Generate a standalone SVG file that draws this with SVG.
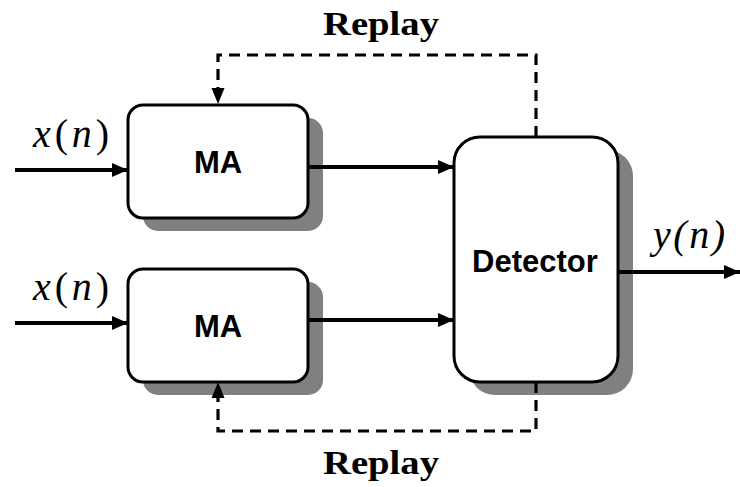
<svg xmlns="http://www.w3.org/2000/svg" width="740" height="487" viewBox="0 0 740 487">
<defs>
<marker id="ah" viewBox="0 0 16 14" refX="16" refY="7" markerWidth="16" markerHeight="14" orient="auto" markerUnits="userSpaceOnUse"><path d="M0,0 L16,7 L0,14 z" fill="#000"/></marker>
</defs>
<style>
.box{fill:#fff;stroke:#000;stroke-width:3px}
.sh{fill:#808080}
.lab{font-family:"Liberation Sans",Arial,sans-serif;font-weight:bold;text-anchor:middle;font-size:31px}
.rep{font-family:"Liberation Serif","Times New Roman",serif;font-weight:bold;font-size:33px;text-anchor:middle}
.math{font-family:"Liberation Serif","Times New Roman",serif;font-size:40px}
.it{font-style:italic}
.sol{fill:none;stroke:#000;stroke-width:4px}
.dash{fill:none;stroke:#000;stroke-width:3.2px;stroke-dasharray:11,7}
</style>
<rect width="740" height="487" fill="#fff"/>
<g id="ma1">
<rect class="sh" x="143" y="118" width="180" height="113" rx="15"/>
<rect class="box" x="128" y="105" width="180" height="113" rx="15"/>
<text class="lab" x="218" y="173">MA</text>
</g>
<g id="ma2">
<rect class="sh" x="143" y="282" width="180" height="113" rx="15"/>
<rect class="box" x="128" y="269" width="180" height="113" rx="15"/>
<text class="lab" x="218" y="337">MA</text>
</g>
<g id="detector">
<rect class="sh" x="469" y="150" width="164" height="245" rx="26"/>
<rect class="box" x="454" y="137" width="164" height="245" rx="26"/>
<text class="lab" x="535" y="272">Detector</text>
</g>
<g id="connectors">
<line class="sol" x1="15" y1="170" x2="128" y2="170" marker-end="url(#ah)"/>
<line class="sol" x1="15" y1="323" x2="128" y2="323" marker-end="url(#ah)"/>
<line class="sol" x1="308" y1="167" x2="454" y2="167" marker-end="url(#ah)"/>
<line class="sol" x1="308" y1="320" x2="454" y2="320" marker-end="url(#ah)"/>
<line class="sol" x1="618" y1="272" x2="740" y2="272" marker-end="url(#ah)"/>
<path class="dash" d="M536,137 V55 H218 V90"/>
<path d="M211.5,88 L224.5,88 L218,104 z" fill="#000"/>
<path class="dash" d="M536,382 V431 H218 V398"/>
<path d="M211.5,398 L224.5,398 L218,382 z" fill="#000"/>
</g>
<g id="labels">
<text class="rep" x="381" y="35" textLength="116" lengthAdjust="spacingAndGlyphs">Replay</text>
<text class="rep" x="381" y="474" textLength="116" lengthAdjust="spacingAndGlyphs">Replay</text>
<text class="math" x="33" y="147" textLength="76"><tspan class="it">x</tspan>(<tspan class="it">n</tspan>)</text>
<text class="math" x="33" y="300" textLength="76"><tspan class="it">x</tspan>(<tspan class="it">n</tspan>)</text>
<text class="math it" x="653" y="248" textLength="72">y(n)</text>
</g>
</svg>
